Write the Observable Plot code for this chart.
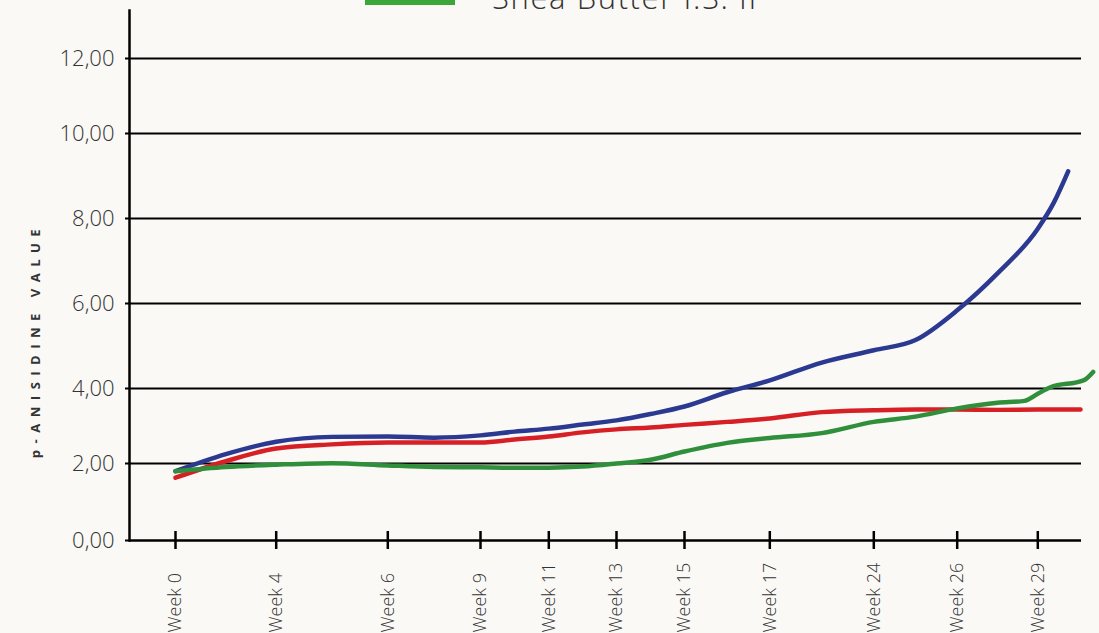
<!DOCTYPE html>
<html>
<head>
<meta charset="utf-8">
<script src="https://cdn.jsdelivr.net/npm/d3@7"></script>
<script src="https://cdn.jsdelivr.net/npm/@observablehq/plot@0.6"></script>
<style>
  html, body { margin: 0; padding: 0; background: #faf9f6; overflow: hidden; width: 1099px; height: 633px; }
  #wrap { position: relative; width: 1099px; height: 633px; }
  #legend-swatch { position: absolute; left: 365px; top: -7px; width: 90px; height: 12px; background: #3ba63a; }
  #legend-text { position: absolute; left: 492px; top: -18.5px; font-family: "Open Sans", "Lato", sans-serif; font-weight: 300; font-size: 31px; line-height: 31px; letter-spacing: 1.6px; color: #333; white-space: nowrap; }
  #chart { position: absolute; left: 0; top: 0; }
</style>
</head>
<body>
<div id="wrap">
  <div id="chart"></div>
  <div id="legend-swatch"></div>
  <div id="legend-text">Shea Butter I.S. II</div>
</div>
<script>
// ---- data ----
const weekTicks = [0, 4, 6, 9, 11, 13, 15, 17, 24, 26, 29];
const weekLabels = ["Week 0", "Week 4", "Week 6", "Week 9", "Week 11", "Week 13", "Week 15", "Week 17", "Week 24", "Week 26", "Week 29"];
const yTicks = [0, 2, 4, 6, 8, 10, 12];
const yTickLabels = ["0,00", "2,00", "4,00", "6,00", "8,00", "10,00", "12,00"];
const yTitle = "p-ANISIDINE VALUE";

const blueWeeks  = [0, 2, 4, 5, 6, 7.5, 9, 10, 11, 12, 13, 14, 15, 16, 17, 20.5, 24, 25, 26, 27.5, 29, 29.6, 30.13];
const blueValues = [1.80, 2.25, 2.58, 2.71, 2.72, 2.69, 2.75, 2.85, 2.93, 3.04, 3.15, 3.32, 3.52, 3.90, 4.19, 4.61, 4.90, 5.14, 5.84, 6.71, 7.76, 8.38, 9.11];

const redWeeks  = [0, 2, 4, 5, 6, 7.5, 9, 10, 11, 12, 13, 14, 15, 16, 17, 20.5, 24, 25, 26, 27.5, 29, 30.59];
const redValues = [1.63, 2.06, 2.40, 2.51, 2.56, 2.56, 2.56, 2.64, 2.72, 2.83, 2.91, 2.96, 3.03, 3.11, 3.20, 3.37, 3.42, 3.44, 3.44, 3.43, 3.44, 3.44];

const greenWeeks  = [0, 2, 4, 5, 6, 7.5, 9, 10, 11, 12, 13, 14, 15, 16, 17, 20.5, 24, 25, 26, 27.5, 28.5, 29, 29.47, 30.7, 31.06];
const greenValues = [1.80, 1.91, 1.97, 2.01, 1.95, 1.91, 1.90, 1.89, 1.89, 1.92, 2.00, 2.10, 2.32, 2.55, 2.68, 2.81, 3.11, 3.25, 3.47, 3.62, 3.67, 3.86, 4.03, 4.19, 4.39];

const seriesColors = {blue: "#2b3990", red: "#d71f26", green: "#2f8f3a"};
const toRows = (weeks, values) => weeks.map((w, i) => ({week: w, value: values[i]}));

const font = '"Open Sans", "Lato", sans-serif';

const chart = Plot.plot({
  width: 1099,
  height: 633,
  marginLeft: 129,
  marginRight: 18,
  marginTop: 10,
  marginBottom: 93,
  style: {background: "transparent", fontFamily: font, color: "#333", overflow: "visible"},
  x: {type: "linear", domain: weekTicks, range: [175, 275.7, 387.3, 480, 548.3, 616, 684, 769.3, 873.3, 956.7, 1037.3]},
  y: {type: "linear", domain: yTicks, range: [540, 463, 388, 303, 218, 133, 58]},
  marks: [
    Plot.ruleY(yTicks.slice(1), {stroke: "#000", strokeWidth: 2}),
    Plot.ruleY([0], {stroke: "#000", strokeWidth: 2.5}),
    Plot.frame({anchor: "left", stroke: "#000", strokeWidth: 2.5}),
    Plot.axisY(yTicks, {tickSize: 4, tickPadding: 11, strokeWidth: 2, stroke: "#000",
      tickFormat: d => yTickLabels[yTicks.indexOf(d)], fontSize: 22, fontWeight: 300, fill: "#333", label: null}),
    Plot.axisX(weekTicks, {tickSize: 18, dy: -9, strokeWidth: 2.5, stroke: "#000", tickFormat: () => "", label: null}),
    Plot.text(weekLabels, {x: weekTicks, frameAnchor: "bottom", dy: 92, rotate: -90, textAnchor: "start",
      lineAnchor: "middle", fontSize: 18, fontWeight: 300, fill: "#333"}),
    Plot.text([yTitle], {frameAnchor: "left", dx: -94, dy: 65, rotate: -90, textAnchor: "middle",
      fontSize: 13, fontWeight: "bold", fill: "#333"}),
    Plot.line(toRows(blueWeeks, blueValues), {x: "week", y: "value", stroke: seriesColors.blue, strokeWidth: 4.5, curve: "monotone-x"}),
    Plot.line(toRows(redWeeks, redValues), {x: "week", y: "value", stroke: seriesColors.red, strokeWidth: 4.5, curve: "monotone-x"}),
    Plot.line(toRows(greenWeeks, greenValues), {x: "week", y: "value", stroke: seriesColors.green, strokeWidth: 4.5, curve: "monotone-x"})
  ]
});
d3.select(chart).selectAll("text").filter(function () { return this.textContent === yTitle; }).attr("letter-spacing", "6.5");
document.getElementById("chart").append(chart);
</script>
</body>
</html>
